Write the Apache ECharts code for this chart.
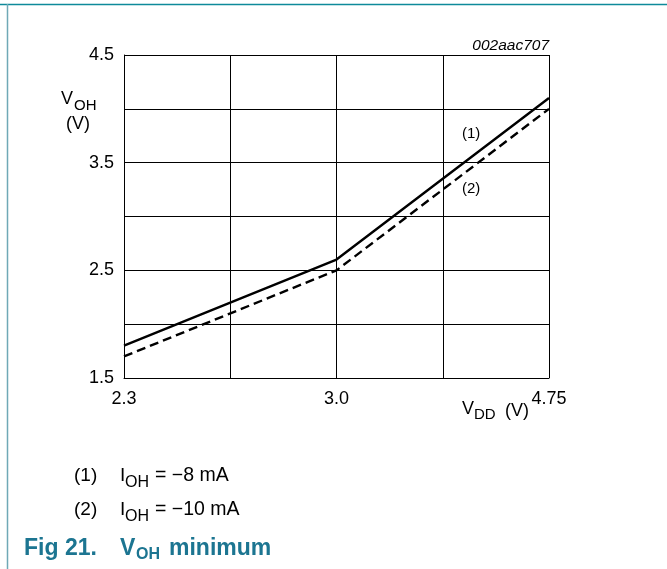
<!DOCTYPE html>
<html>
<head>
<meta charset="utf-8">
<script src="https://cdn.jsdelivr.net/npm/echarts@6/dist/echarts.min.js"></script>
<style>
  html, body { margin: 0; padding: 0; background: #fff; }
  #chart { width: 667px; height: 569px; }
</style>
</head>
<body>
<div id="chart"></div>
<script>
// x axis is drawn with 4 equal divisions, only 2.3 / 3.0 / 4.75 labelled
var vddCats = ['2.3', '', '3.0', '', '4.75'];
var yTickLabels = ['1.5', '2.5', '3.5', '4.5'];
// V_OH minimum, read at the labelled VDD points
var vohMinus8 = [1.8, null, 2.6, null, 4.1];   // (1) IOH = -8 mA
var vohMinus10 = [1.7, null, 2.5, null, 4.0];  // (2) IOH = -10 mA

var FONT = '"Liberation Sans", Arial, sans-serif';
var TEAL = '#1c7591';

window.onload = function () {
  var chart = echarts.init(document.getElementById('chart'));

  function txt(x, y, s, size, opts) {
    opts = opts || {};
    return {
      type: 'text', x: x, y: y, silent: true,
      style: {
        text: s, fill: opts.color || '#000',
        fontSize: size, fontFamily: FONT,
        fontWeight: opts.weight || 'normal',
        fontStyle: opts.style || 'normal',
        textAlign: opts.align || 'left', textVerticalAlign: 'middle'
      }
    };
  }

  var option = {
    animation: false,
    grid: { left: 124, top: 55, width: 425, height: 323 },
    xAxis: {
      type: 'category',
      data: vddCats,
      boundaryGap: false,
      axisLine: { lineStyle: { color: '#000', width: 1 } },
      axisTick: { show: false },
      axisLabel: { interval: 0, margin: 12, fontSize: 18, color: '#000', fontFamily: FONT },
      splitLine: { show: true, lineStyle: { color: '#000', width: 1 } }
    },
    yAxis: {
      type: 'value',
      min: 1.5, max: 4.5, interval: 0.5,
      axisLine: { show: true, lineStyle: { color: '#000', width: 1 } },
      axisTick: { show: false },
      axisLabel: {
        margin: 10, fontSize: 18, color: '#000', fontFamily: FONT,
        formatter: function (v) {
          var s = v.toFixed(1);
          return yTickLabels.indexOf(s) >= 0 ? s : '';
        }
      },
      splitLine: { show: true, lineStyle: { color: '#000', width: 1 } }
    },
    series: [
      {
        type: 'line', data: vohMinus8, connectNulls: true, symbol: 'none',
        lineStyle: { color: '#000', width: 2.4 }
      },
      {
        type: 'line', data: vohMinus10, connectNulls: true, symbol: 'none',
        lineStyle: { color: '#000', width: 2.4, type: [9, 5] }
      }
    ],
    graphic: [
      // page frame
      { type: 'line', silent: true, shape: { x1: 0, y1: 4.5, x2: 667, y2: 4.5 }, style: { stroke: '#0e8a9a', lineWidth: 1.5 } },
      { type: 'line', silent: true, shape: { x1: 7.5, y1: 4, x2: 7.5, y2: 569 }, style: { stroke: '#6fa9b6', lineWidth: 1.5 } },

      txt(549, 46, '002aac707', 15.5, { align: 'right', style: 'italic' }),

      // y axis name
      txt(61, 99, 'V', 18),
      txt(74, 106, 'OH', 15),
      txt(66, 124, '(V)', 18),

      // x axis name
      txt(462, 409, 'V', 18),
      txt(474, 415, 'DD', 15),
      txt(505, 411, '(V)', 18),

      // curve labels
      txt(462, 134, '(1)', 15),
      txt(462, 189, '(2)', 15),

      // notes
      txt(74, 476, '(1)', 19),
      txt(120, 476, 'I', 19),
      txt(125, 483, 'OH', 16),
      txt(155, 476, '= \u22128 mA', 19.5),
      txt(74, 510, '(2)', 19),
      txt(120, 510, 'I', 19),
      txt(125, 517, 'OH', 16),
      txt(155, 510, '= \u221210 mA', 19.5),

      // figure title
      txt(24, 549, 'Fig 21.', 23, { weight: 'bold', color: TEAL }),
      txt(120, 549, 'V', 23, { weight: 'bold', color: TEAL }),
      txt(136, 555, 'OH', 16, { weight: 'bold', color: TEAL }),
      txt(169, 549, 'minimum', 23, { weight: 'bold', color: TEAL })
    ]
  };

  chart.setOption(option);
};
</script>
</body>
</html>
